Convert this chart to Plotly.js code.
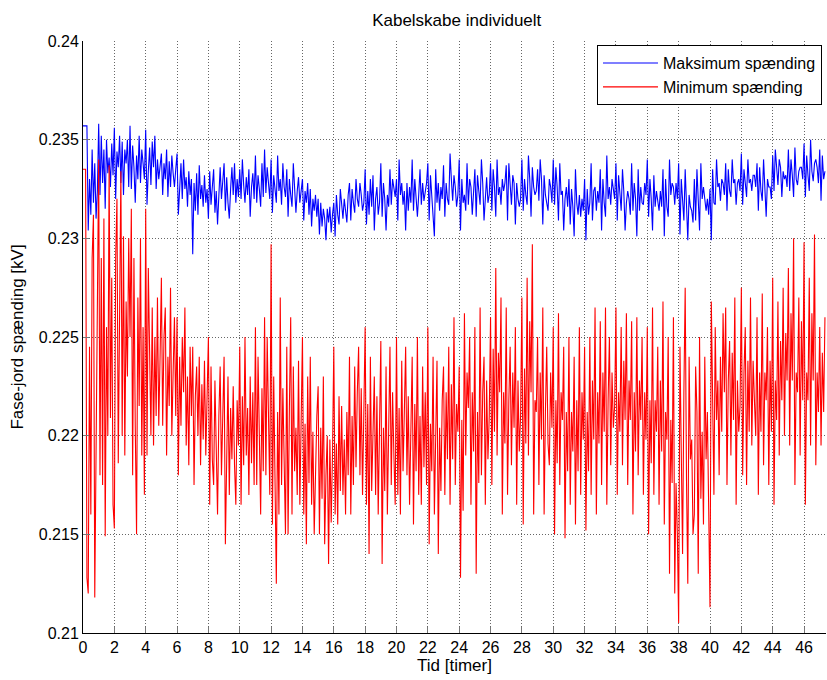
<!DOCTYPE html>
<html>
<head>
<meta charset="utf-8">
<script src="https://cdn.plot.ly/plotly-3.0.1.min.js"></script>
<style>html,body{margin:0;padding:0;background:#fff;}#chart{width:827px;height:680px;}</style>
</head>
<body>
<div id="chart"></div>
<script>
// Sample interval: 5 minutes (in hours)
var sampleStepHours = 1 / 12;

// Maksimum spænding [kV], 5-min samples (one row per hour)
var maxVoltage = [
0.2357,0.2357,0.2357,0.2357,0.2304,0.2330,0.2312,0.2345,0.2318,0.2338,0.2310,0.2324,
0.2358,0.2322,0.2352,0.2328,0.2345,0.2315,0.2350,0.2333,0.2341,0.2326,0.2348,0.2332,
0.2356,0.2320,0.2344,0.2336,0.2352,0.2328,0.2349,0.2322,0.2345,0.2338,0.2350,0.2326,
0.2357,0.2325,0.2347,0.2336,0.2318,0.2342,0.2330,0.2352,0.2328,0.2345,0.2338,0.2330,
0.2355,0.2317,0.2334,0.2346,0.2327,0.2349,0.2336,0.2352,0.2325,0.2340,0.2330,0.2338,
0.2343,0.2322,0.2338,0.2330,0.2345,0.2321,0.2339,0.2326,0.2342,0.2333,0.2326,0.2335,
0.2343,0.2312,0.2329,0.2338,0.2320,0.2340,0.2325,0.2331,0.2316,0.2334,0.2322,0.2330,
0.2292,0.2328,0.2314,0.2333,0.2312,0.2337,0.2320,0.2327,0.2316,0.2332,0.2318,0.2325,
0.2310,0.2334,0.2317,0.2329,0.2335,0.2313,0.2324,0.2307,0.2326,0.2336,0.2320,0.2328,
0.2338,0.2314,0.2331,0.2318,0.2310,0.2325,0.2336,0.2322,0.2338,0.2318,0.2330,0.2321,
0.2335,0.2320,0.2340,0.2327,0.2318,0.2331,0.2322,0.2335,0.2311,0.2326,0.2333,0.2320,
0.2342,0.2318,0.2332,0.2325,0.2316,0.2338,0.2321,0.2345,0.2323,0.2336,0.2329,0.2320,
0.2340,0.2313,0.2332,0.2326,0.2318,0.2342,0.2324,0.2330,0.2317,0.2338,0.2326,0.2321,
0.2335,0.2311,0.2330,0.2322,0.2316,0.2338,0.2328,0.2313,0.2324,0.2331,0.2318,0.2326,
0.2330,0.2309,0.2324,0.2318,0.2328,0.2312,0.2325,0.2306,0.2320,0.2314,0.2322,0.2311,
0.2320,0.2302,0.2318,0.2306,0.2315,0.2310,0.2299,0.2315,0.2308,0.2316,0.2303,0.2312,
0.2318,0.2301,0.2322,0.2312,0.2307,0.2325,0.2316,0.2310,0.2320,0.2314,0.2308,0.2322,
0.2328,0.2309,0.2325,0.2318,0.2313,0.2330,0.2320,0.2316,0.2328,0.2322,0.2314,0.2318,
0.2335,0.2307,0.2324,0.2312,0.2330,0.2316,0.2332,0.2304,0.2320,0.2326,0.2312,0.2318,
0.2338,0.2311,0.2328,0.2320,0.2304,0.2322,0.2316,0.2335,0.2317,0.2330,0.2326,0.2321,
0.2330,0.2309,0.2340,0.2322,0.2328,0.2317,0.2324,0.2304,0.2328,0.2314,0.2326,0.2318,
0.2340,0.2314,0.2330,0.2318,0.2311,0.2322,0.2335,0.2317,0.2328,0.2319,0.2324,0.2328,
0.2338,0.2309,0.2332,0.2322,0.2316,0.2301,0.2335,0.2318,0.2328,0.2314,0.2326,0.2320,
0.2337,0.2311,0.2328,0.2320,0.2317,0.2343,0.2330,0.2319,0.2332,0.2326,0.2316,0.2322,
0.2340,0.2304,0.2330,0.2318,0.2322,0.2314,0.2338,0.2317,0.2330,0.2326,0.2312,0.2321,
0.2335,0.2311,0.2332,0.2324,0.2317,0.2340,0.2328,0.2309,0.2324,0.2331,0.2318,0.2322,
0.2338,0.2314,0.2335,0.2326,0.2311,0.2340,0.2322,0.2326,0.2317,0.2330,0.2324,0.2328,
0.2337,0.2309,0.2338,0.2324,0.2317,0.2332,0.2328,0.2307,0.2328,0.2320,0.2316,0.2320,
0.2340,0.2314,0.2330,0.2322,0.2317,0.2342,0.2330,0.2311,0.2336,0.2326,0.2322,0.2324,
0.2335,0.2319,0.2340,0.2330,0.2307,0.2332,0.2322,0.2318,0.2314,0.2330,0.2326,0.2318,
0.2340,0.2317,0.2336,0.2326,0.2309,0.2338,0.2322,0.2324,0.2304,0.2320,0.2326,0.2316,
0.2330,0.2307,0.2325,0.2316,0.2301,0.2335,0.2318,0.2312,0.2322,0.2311,0.2320,0.2314,
0.2330,0.2299,0.2325,0.2312,0.2318,0.2338,0.2309,0.2324,0.2326,0.2314,0.2324,0.2318,
0.2335,0.2304,0.2330,0.2318,0.2311,0.2342,0.2320,0.2326,0.2317,0.2330,0.2326,0.2320,
0.2338,0.2309,0.2332,0.2320,0.2314,0.2335,0.2324,0.2304,0.2318,0.2324,0.2320,0.2312,
0.2338,0.2314,0.2328,0.2320,0.2301,0.2335,0.2314,0.2326,0.2318,0.2317,0.2328,0.2322,
0.2340,0.2311,0.2330,0.2320,0.2304,0.2332,0.2316,0.2324,0.2318,0.2314,0.2324,0.2316,
0.2335,0.2301,0.2330,0.2316,0.2311,0.2340,0.2322,0.2328,0.2326,0.2317,0.2328,0.2320,
0.2338,0.2302,0.2330,0.2316,0.2309,0.2335,0.2320,0.2299,0.2322,0.2316,0.2314,0.2308,
0.2330,0.2309,0.2335,0.2322,0.2304,0.2338,0.2320,0.2326,0.2320,0.2314,0.2320,0.2312,
0.2325,0.2299,0.2335,0.2318,0.2317,0.2340,0.2326,0.2328,0.2319,0.2330,0.2328,0.2322,
0.2338,0.2314,0.2335,0.2324,0.2321,0.2340,0.2328,0.2330,0.2317,0.2328,0.2330,0.2324,
0.2343,0.2317,0.2335,0.2326,0.2321,0.2340,0.2328,0.2330,0.2324,0.2332,0.2332,0.2326,
0.2338,0.2314,0.2336,0.2324,0.2319,0.2340,0.2328,0.2311,0.2330,0.2326,0.2326,0.2320,
0.2342,0.2324,0.2345,0.2334,0.2327,0.2340,0.2336,0.2321,0.2334,0.2330,0.2332,0.2326,
0.2345,0.2324,0.2340,0.2332,0.2321,0.2346,0.2330,0.2327,0.2334,0.2336,0.2336,0.2330,
0.2348,0.2321,0.2342,0.2332,0.2324,0.2350,0.2334,0.2329,0.2338,0.2340,0.2336,0.2328,
0.2345,0.2319,0.2342,0.2330,0.2334
];

// Minimum spænding [kV], 5-min samples (one row per hour)
var minVoltage = [
0.2335,0.2335,0.2335,0.2128,0.2120,0.2245,0.2160,0.2290,0.2312,0.2118,0.2205,0.2300,
0.2340,0.2180,0.2290,0.2175,0.2310,0.2149,0.2255,0.2200,0.2337,0.2209,0.2280,0.2165,
0.2153,0.2290,0.2320,0.2186,0.2255,0.2334,0.2200,0.2301,0.2190,0.2268,0.2230,0.2300,
0.2250,0.2315,0.2180,0.2290,0.2205,0.2150,0.2270,0.2215,0.2300,0.2190,0.2255,0.2170,
0.2315,0.2190,0.2285,0.2230,0.2200,0.2265,0.2195,0.2250,0.2210,0.2270,0.2205,0.2240,
0.2280,0.2205,0.2250,0.2265,0.2190,0.2240,0.2215,0.2275,0.2200,0.2232,0.2260,0.2210,
0.2260,0.2180,0.2240,0.2205,0.2250,0.2222,0.2265,0.2195,0.2230,0.2185,0.2245,0.2210,
0.2245,0.2175,0.2220,0.2235,0.2200,0.2240,0.2185,0.2226,0.2198,0.2238,0.2190,0.2220,
0.2250,0.2165,0.2235,0.2188,0.2175,0.2228,0.2194,0.2160,0.2210,0.2235,0.2180,0.2218,
0.2240,0.2145,0.2196,0.2230,0.2170,0.2214,0.2188,0.2225,0.2185,0.2165,0.2218,0.2195,
0.2245,0.2165,0.2220,0.2185,0.2250,0.2190,0.2214,0.2170,0.2230,0.2186,0.2222,0.2175,
0.2255,0.2175,0.2240,0.2196,0.2160,0.2224,0.2182,0.2260,0.2180,0.2250,0.2205,0.2170,
0.2297,0.2155,0.2230,0.2178,0.2125,0.2212,0.2160,0.2270,0.2175,0.2224,0.2190,0.2150,
0.2245,0.2150,0.2214,0.2260,0.2160,0.2235,0.2182,0.2204,0.2170,0.2238,0.2165,0.2212,
0.2250,0.2160,0.2206,0.2145,0.2230,0.2176,0.2240,0.2165,0.2202,0.2150,0.2188,0.2210,
0.2225,0.2150,0.2204,0.2168,0.2230,0.2145,0.2180,0.2200,0.2135,0.2198,0.2156,0.2190,
0.2245,0.2160,0.2196,0.2155,0.2220,0.2172,0.2215,0.2170,0.2198,0.2160,0.2212,0.2180,
0.2240,0.2160,0.2210,0.2175,0.2235,0.2184,0.2222,0.2245,0.2180,0.2224,0.2170,0.2205,
0.2255,0.2165,0.2216,0.2140,0.2240,0.2172,0.2202,0.2230,0.2170,0.2220,0.2160,0.2200,
0.2248,0.2135,0.2204,0.2172,0.2235,0.2160,0.2216,0.2245,0.2175,0.2222,0.2190,0.2165,
0.2250,0.2170,0.2214,0.2160,0.2238,0.2182,0.2212,0.2245,0.2180,0.2220,0.2165,0.2198,
0.2240,0.2155,0.2216,0.2182,0.2250,0.2170,0.2210,0.2165,0.2235,0.2184,0.2222,0.2175,
0.2255,0.2145,0.2206,0.2182,0.2240,0.2160,0.2206,0.2238,0.2140,0.2204,0.2172,0.2218,
0.2235,0.2170,0.2222,0.2188,0.2245,0.2165,0.2226,0.2188,0.2260,0.2175,0.2216,0.2202,
0.2235,0.2128,0.2208,0.2162,0.2262,0.2190,0.2232,0.2214,0.2250,0.2165,0.2222,0.2192,
0.2255,0.2130,0.2212,0.2176,0.2265,0.2180,0.2222,0.2240,0.2165,0.2228,0.2188,0.2210,
0.2260,0.2175,0.2244,0.2202,0.2285,0.2190,0.2242,0.2222,0.2270,0.2160,0.2222,0.2196,
0.2265,0.2170,0.2218,0.2245,0.2185,0.2232,0.2204,0.2255,0.2165,0.2228,0.2192,0.2210,
0.2270,0.2155,0.2234,0.2196,0.2280,0.2190,0.2258,0.2222,0.2297,0.2160,0.2218,0.2212,
0.2250,0.2175,0.2232,0.2198,0.2265,0.2160,0.2212,0.2245,0.2196,0.2185,0.2232,0.2204,
0.2255,0.2150,0.2218,0.2186,0.2262,0.2175,0.2222,0.2208,0.2245,0.2148,0.2212,0.2182,
0.2250,0.2165,0.2212,0.2192,0.2240,0.2155,0.2218,0.2182,0.2255,0.2170,0.2222,0.2198,
0.2245,0.2152,0.2212,0.2182,0.2250,0.2170,0.2228,0.2198,0.2265,0.2160,0.2222,0.2196,
0.2258,0.2175,0.2232,0.2202,0.2265,0.2165,0.2218,0.2250,0.2185,0.2232,0.2204,0.2215,
0.2265,0.2170,0.2222,0.2202,0.2255,0.2185,0.2238,0.2208,0.2262,0.2175,0.2228,0.2208,
0.2258,0.2160,0.2222,0.2192,0.2260,0.2180,0.2228,0.2208,0.2250,0.2170,0.2222,0.2198,
0.2255,0.2150,0.2218,0.2186,0.2265,0.2170,0.2218,0.2202,0.2245,0.2165,0.2228,0.2192,
0.2268,0.2155,0.2212,0.2198,0.2250,0.2130,0.2208,0.2176,0.2260,0.2120,0.2176,0.2150,
0.2105,0.2245,0.2192,0.2140,0.2222,0.2275,0.2178,0.2125,0.2240,0.2188,0.2198,0.2150,
0.2160,0.2235,0.2212,0.2130,0.2250,0.2168,0.2202,0.2155,0.2240,0.2188,0.2212,0.2165,
0.2113,0.2268,0.2202,0.2170,0.2255,0.2208,0.2228,0.2180,0.2240,0.2202,0.2262,0.2222,
0.2265,0.2175,0.2228,0.2248,0.2190,0.2242,0.2208,0.2270,0.2165,0.2228,0.2202,0.2215,
0.2275,0.2180,0.2232,0.2255,0.2175,0.2238,0.2202,0.2270,0.2195,0.2238,0.2218,0.2200,
0.2260,0.2170,0.2232,0.2202,0.2272,0.2185,0.2232,0.2218,0.2255,0.2175,0.2238,0.2202,
0.2280,0.2165,0.2228,0.2208,0.2268,0.2190,0.2248,0.2218,0.2275,0.2200,0.2252,0.2228,
0.2285,0.2195,0.2262,0.2228,0.2300,0.2175,0.2232,0.2222,0.2270,0.2190,0.2258,0.2218,
0.2298,0.2165,0.2232,0.2218,0.2280,0.2195,0.2262,0.2228,0.2302,0.2185,0.2232,0.2212,
0.2255,0.2195,0.2242,0.2212,0.2260
];

var xTickValues = [0,2,4,6,8,10,12,14,16,18,20,22,24,26,28,30,32,34,36,38,40,42,44,46];
var yTickValues = [0.21,0.215,0.22,0.225,0.23,0.235,0.24];
var yTickLabels = ["0.21","0.215","0.22","0.225","0.23","0.235","0.24"];

var timeHours = [];
for (var i = 0; i < maxVoltage.length; i++) { timeHours.push(i * sampleStepHours); }

var font = "Liberation Sans, Arial, Helvetica, sans-serif";

var traces = [
  {x: timeHours, y: maxVoltage, type: "scatter", mode: "lines", name: "Maksimum spænding",
   line: {color: "#0000ff", width: 1.1}},
  {x: timeHours, y: minVoltage, type: "scatter", mode: "lines", name: "Minimum spænding",
   line: {color: "#ff0000", width: 1.1}}
];

var gridStyle = {showgrid: true, gridcolor: "rgba(0,0,0,0.6)", griddash: "1px,2px", gridwidth: 1};

var layout = {
  width: 827, height: 680,
  margin: {l: 83, r: 1, t: 41, b: 47, pad: 0},
  paper_bgcolor: "#fff", plot_bgcolor: "#fff",
  font: {family: font, size: 16, color: "#000"},
  title: {text: "Kabelskabe individuelt", font: {family: font, size: 17, color: "#000"},
          x: 0.503, xref: "paper", xanchor: "center", y: 20, yref: "container", yanchor: "middle"},
  xaxis: Object.assign({
    range: [0, 47.4], tickvals: xTickValues, ticktext: xTickValues.map(String),
    zeroline: false, showline: true, linecolor: "#000", linewidth: 1,
    ticks: "inside", ticklen: 6, tickcolor: "#777",
    tickfont: {family: font, size: 16, color: "#000"},
    title: {text: "Tid [timer]", font: {family: font, size: 17, color: "#000"}, standoff: 3}
  }, gridStyle),
  yaxis: Object.assign({
    range: [0.21, 0.24], tickvals: yTickValues, ticktext: yTickLabels,
    zeroline: false, showline: true, linecolor: "#000", linewidth: 1,
    ticks: "inside", ticklen: 6, tickcolor: "#777",
    tickfont: {family: font, size: 16, color: "#000"},
    title: {text: "Fase-jord spænding [kV]", font: {family: font, size: 17, color: "#000"}, standoff: 10}
  }, gridStyle),
  showlegend: true,
  legend: {x: 0.9946, xanchor: "right", y: 0.993, yanchor: "top",
           bgcolor: "#fff", bordercolor: "#000", borderwidth: 1, itemwidth: 55,
           font: {family: font, size: 16, color: "#000"}, tracegroupgap: 0}
};

Plotly.newPlot("chart", traces, layout, {displayModeBar: false, staticPlot: true});
</script>
</body>
</html>
